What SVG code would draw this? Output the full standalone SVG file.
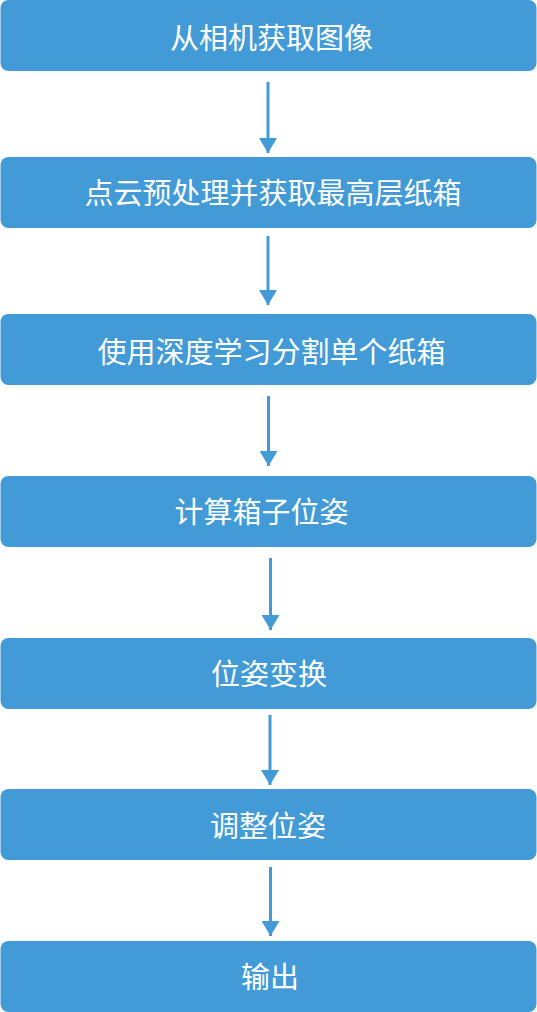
<svg xmlns="http://www.w3.org/2000/svg" width="537" height="1012" viewBox="0 0 537 1012">
<style>
.box{fill:#429bd6;}
.lbl{fill:#ffffff;font-family:"Noto Sans CJK SC","Noto Sans",sans-serif;font-size:29px;text-anchor:middle;dominant-baseline:central;}
.con{stroke:#429bd6;stroke-width:3;fill:none;marker-end:url(#ah);}
</style>
<defs>
<marker id="ah" viewBox="0 0 15 18" refX="15" refY="9" markerWidth="15" markerHeight="18" markerUnits="userSpaceOnUse" orient="auto">
<path d="M0,0 L15,9 L0,18 z" fill="#429bd6"/>
</marker>
</defs>
<g id="connectors">
<line class="con" x1="268" y1="82" x2="268" y2="153"/>
<line class="con" x1="268" y1="236" x2="268" y2="305"/>
<line class="con" x1="268.5" y1="396" x2="268.5" y2="466"/>
<line class="con" x1="270.5" y1="558" x2="270.5" y2="630"/>
<line class="con" x1="270" y1="715" x2="270" y2="785"/>
<line class="con" x1="270.5" y1="867" x2="270.5" y2="936"/>
</g>
<g id="n1"><rect class="box" x="0.5" y="0" width="536" height="71" rx="8"/><text class="lbl" x="271.5" y="35.5">从相机获取图像</text></g>
<g id="n2"><rect class="box" x="0.5" y="157" width="536" height="71" rx="8"/><text class="lbl" x="273" y="190.5">点云预处理并获取最高层纸箱</text></g>
<g id="n3"><rect class="box" x="0.5" y="314" width="536" height="71" rx="8"/><text class="lbl" x="271.5" y="349.5">使用深度学习分割单个纸箱</text></g>
<g id="n4"><rect class="box" x="0.5" y="476" width="536" height="71" rx="8"/><text class="lbl" x="261.5" y="509.5">计算箱子位姿</text></g>
<g id="n5"><rect class="box" x="0.5" y="638" width="536" height="71" rx="8"/><text class="lbl" x="269" y="672">位姿变换</text></g>
<g id="n6"><rect class="box" x="0.5" y="789" width="536" height="71" rx="8"/><text class="lbl" x="268" y="823.5">调整位姿</text></g>
<g id="n7"><rect class="box" x="0.5" y="941" width="536" height="71" rx="8"/><text class="lbl" x="270" y="975">输出</text></g>
</svg>
